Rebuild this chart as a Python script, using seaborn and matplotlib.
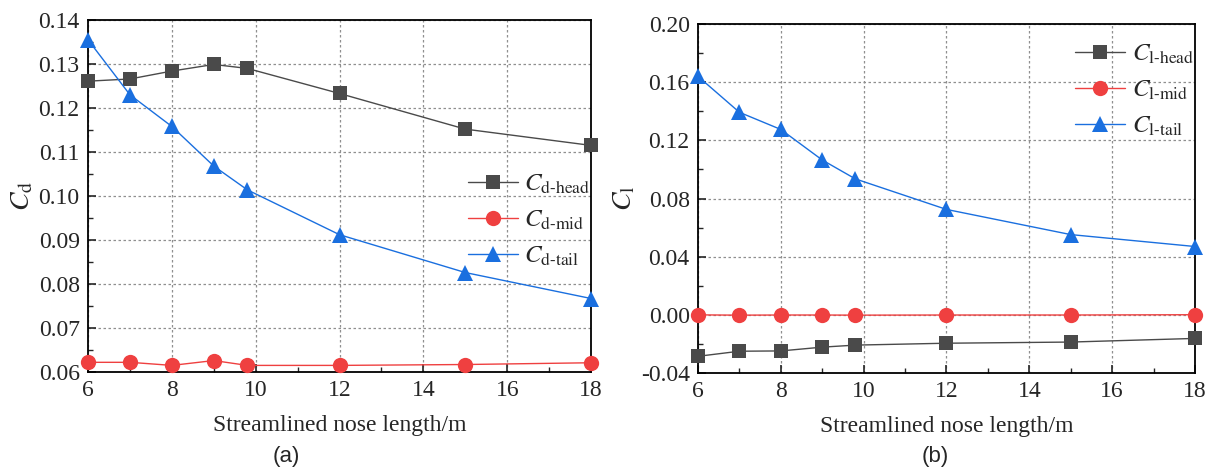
import numpy as np
import pandas as pd
import matplotlib
matplotlib.use("Agg")
import matplotlib.pyplot as plt
from matplotlib.ticker import MultipleLocator
import seaborn as sns

# ---- data ----
nose_length = [6, 7, 8, 9, 9.8, 12, 15, 18]
cd_head = [0.1261, 0.1266, 0.1284, 0.1299, 0.1290, 0.1233, 0.1152, 0.1115]
cd_mid = [0.0622, 0.0622, 0.0615, 0.0626, 0.0615, 0.0615, 0.0617, 0.0621]
cd_tail = [0.1355, 0.1230, 0.1158, 0.1068, 0.1014, 0.0912, 0.0826, 0.0767]
cl_head = [-0.0285, -0.0250, -0.0248, -0.0222, -0.0208, -0.0195, -0.0187, -0.0162]
cl_mid = [0.0000, -0.0002, -0.0001, -0.0001, -0.0002, -0.0001, -0.0001, 0.0001]
cl_tail = [0.1640, 0.1393, 0.1275, 0.1065, 0.0935, 0.0725, 0.0552, 0.0470]

series_keys = ["head", "mid", "tail"]
palette = {"head": "#4a4a4a", "mid": "#ef4040", "tail": "#1a6fdf"}
markers = {"head": "s", "mid": "o", "tail": "^"}
marker_sizes = {"head": 10, "mid": 11, "tail": 11.5}

sns.set_theme(style="ticks")
plt.rcParams["font.family"] = ["Liberation Serif", "DejaVu Serif"]
plt.rcParams["mathtext.fontset"] = "stix"

fig = plt.figure(figsize=(12.16, 4.71), dpi=100)
ax1 = fig.add_axes([0.0724, 0.2102, 0.4137, 0.7473])
ax2 = fig.add_axes([0.5740, 0.2080, 0.4087, 0.7410])


def make_df(vals):
    return pd.DataFrame({"x": nose_length, "y": vals})


def draw(ax, series, sym, ylim, ymajor, yminor, legend_anchor):
    handles = []
    for key, vals in zip(series_keys, series):
        sns.lineplot(data=make_df(vals), x="x", y="y", color=palette[key],
                     marker=markers[key], markersize=marker_sizes[key],
                     markeredgewidth=0, linewidth=1.0, ax=ax, legend=False,
                     zorder=3, clip_on=False)
        h, = ax.plot([], [], color=palette[key], marker=markers[key],
                     markersize=marker_sizes[key], markeredgewidth=0,
                     linewidth=1.0)
        handles.append(h)
    ax.set_xlim(6, 18)
    ax.set_ylim(*ylim)
    ax.xaxis.set_major_locator(MultipleLocator(2))
    ax.xaxis.set_minor_locator(MultipleLocator(1))
    ax.yaxis.set_major_locator(MultipleLocator(ymajor))
    ax.yaxis.set_minor_locator(MultipleLocator(yminor))
    ax.yaxis.set_major_formatter(
        plt.FuncFormatter(lambda v, p: ("%.2f" % v).replace("-0.00", "0.00")))
    ax.tick_params(which="major", direction="in", length=6, width=1.2,
                   labelsize=17, top=False, right=False, pad=6)
    ax.tick_params(which="minor", direction="in", length=3.5, width=1.0,
                   top=False, right=False)
    for sp in ax.spines.values():
        sp.set_visible(True)
        sp.set_color("black")
        sp.set_linewidth(1.3)
    ax.grid(True, which="major", color="#8f8f8f", linestyle=(0, (2, 2)),
            linewidth=0.9)
    ax.set_axisbelow(True)
    ax.set_xlabel("Streamlined nose length/m", fontsize=17, labelpad=10)
    ax.set_ylabel(r"$C_{\mathrm{%s}}$" % sym, fontsize=20, labelpad=2)
    labels = [r"$C_{\mathrm{%s}\text{-}\mathrm{%s}}$" % (sym, k) for k in series_keys]
    ax.legend(handles, labels, frameon=False, fontsize=18,
              loc="center left", bbox_to_anchor=legend_anchor, borderpad=0,
              handlelength=2.0, labelspacing=0.5, handletextpad=0.25)


draw(ax1, [cd_head, cd_mid, cd_tail], "d", (0.06, 0.14), 0.01, 0.005,
     (0.73, 0.43))
draw(ax2, [cl_head, cl_mid, cl_tail], "l", (-0.04, 0.20), 0.04, 0.02,
     (0.734, 0.81))

fig.text(0.2352, 0.030, "(a)", fontsize=16, ha="center", va="center",
         family=["Liberation Sans", "DejaVu Sans"])
fig.text(0.7690, 0.030, "(b)", fontsize=16, ha="center", va="center",
         family=["Liberation Sans", "DejaVu Sans"])

fig.savefig("out.png", dpi=100)
